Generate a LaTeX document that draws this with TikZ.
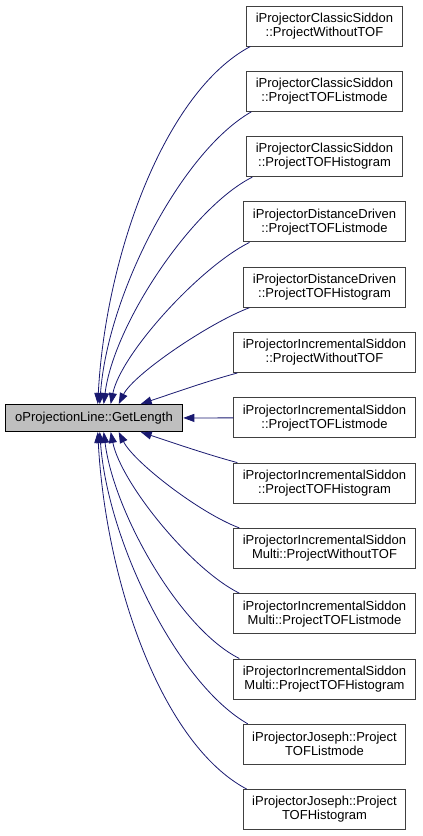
\documentclass[tikz,border=0pt]{standalone}
\usepackage{fontspec}
\setmainfont{Liberation Sans}
\usetikzlibrary{arrows.meta, positioning}
\definecolor{edgeblue}{RGB}{25,25,112}
\definecolor{framegray}{RGB}{64,64,64}
\definecolor{focusgray}{RGB}{191,191,191}
\tikzset{
  caller/.style={
    rectangle,
    draw=framegray,
    fill=white,
    line width=1pt,
    align=center,
    minimum height=40pt,
    inner xsep=9pt,
    inner ysep=2pt,
    font=\fontsize{13}{14}\selectfont
  },
  focus/.style={
    rectangle,
    draw=black,
    fill=focusgray,
    line width=1pt,
    align=center,
    minimum height=27pt,
    inner xsep=10pt,
    font=\fontsize{13}{14}\selectfont
  },
  arrow/.style={-{Triangle[length=11pt, width=8pt]}, color=edgeblue, line width=0.8pt}
}

\begin{document}
\begin{tikzpicture}[x=1pt, y=-1pt, node distance=24.3pt]
  \useasboundingbox (0,0) rectangle (423,836);
  \node[focus] (getlen) at (94,418) {oProjectionLine::GetLength};

  \node[caller] (csNoTOF) at (324.5,26) {iProjectorClassicSiddon\\::ProjectWithoutTOF};
  \node[caller, below=of csNoTOF] (csList) {iProjectorClassicSiddon\\::ProjectTOFListmode};
  \node[caller, below=of csList] (csHist) {iProjectorClassicSiddon\\::ProjectTOFHistogram};
  \node[caller, below=of csHist] (ddList) {iProjectorDistanceDriven\\::ProjectTOFListmode};
  \node[caller, below=of ddList] (ddHist) {iProjectorDistanceDriven\\::ProjectTOFHistogram};
  \node[caller, below=of ddHist] (isNoTOF) {iProjectorIncrementalSiddon\\::ProjectWithoutTOF};
  \node[caller, below=of isNoTOF] (isList) {iProjectorIncrementalSiddon\\::ProjectTOFListmode};
  \node[caller, below=of isList] (isHist) {iProjectorIncrementalSiddon\\::ProjectTOFHistogram};
  \node[caller, below=of isHist] (imNoTOF) {iProjectorIncrementalSiddon\\Multi::ProjectWithoutTOF};
  \node[caller, below=of imNoTOF] (imList) {iProjectorIncrementalSiddon\\Multi::ProjectTOFListmode};
  \node[caller, below=of imList] (imHist) {iProjectorIncrementalSiddon\\Multi::ProjectTOFHistogram};
  \node[caller, below=of imHist] (jsList) {iProjectorJoseph::Project\\TOFListmode};
  \node[caller, below=of jsList] (jsHist) {iProjectorJoseph::Project\\TOFHistogram};

  % upper fan
  \draw[arrow] ([xshift=4pt]csNoTOF.south west) .. controls +(-85,45) and +(8,-150) .. ([xshift=93pt]getlen.north west);
  \draw[arrow] ([xshift=5pt]csList.south west) .. controls +(-70,40) and +(8,-110) .. ([xshift=95pt]getlen.north west);
  \draw[arrow] ([xshift=6pt]csHist.south west) .. controls +(-60,30) and +(10,-80) .. ([xshift=99pt]getlen.north west);
  \draw[arrow] ([xshift=6pt]ddList.south west) .. controls +(-50,25) and +(10,-50) .. ([xshift=106pt]getlen.north west);
  \draw[arrow] ([xshift=6pt]ddHist.south west) .. controls +(-40,15) and +(15,-30) .. ([xshift=114pt]getlen.north west);
  \draw[arrow] ([xshift=4pt]isNoTOF.south west) .. controls +(-30,8) and +(30,-10) .. ([xshift=136pt]getlen.north west);
  \draw[arrow] (isList) -- (getlen);
  % lower fan
  \draw[arrow] ([xshift=4pt]isHist.north west) .. controls +(-30,-8) and +(30,10) .. ([xshift=136pt]getlen.south west);
  \draw[arrow] ([xshift=6pt]imNoTOF.north west) .. controls +(-40,-15) and +(15,30) .. ([xshift=114pt]getlen.south west);
  \draw[arrow] ([xshift=6pt]imList.north west) .. controls +(-50,-25) and +(10,50) .. ([xshift=106pt]getlen.south west);
  \draw[arrow] ([xshift=6pt]imHist.north west) .. controls +(-60,-30) and +(10,80) .. ([xshift=99pt]getlen.south west);
  \draw[arrow] ([xshift=5pt]jsList.north west) .. controls +(-70,-40) and +(8,110) .. ([xshift=95pt]getlen.south west);
  \draw[arrow] ([xshift=4pt]jsHist.north west) .. controls +(-85,-45) and +(8,150) .. ([xshift=93pt]getlen.south west);
\end{tikzpicture}
\end{document}
